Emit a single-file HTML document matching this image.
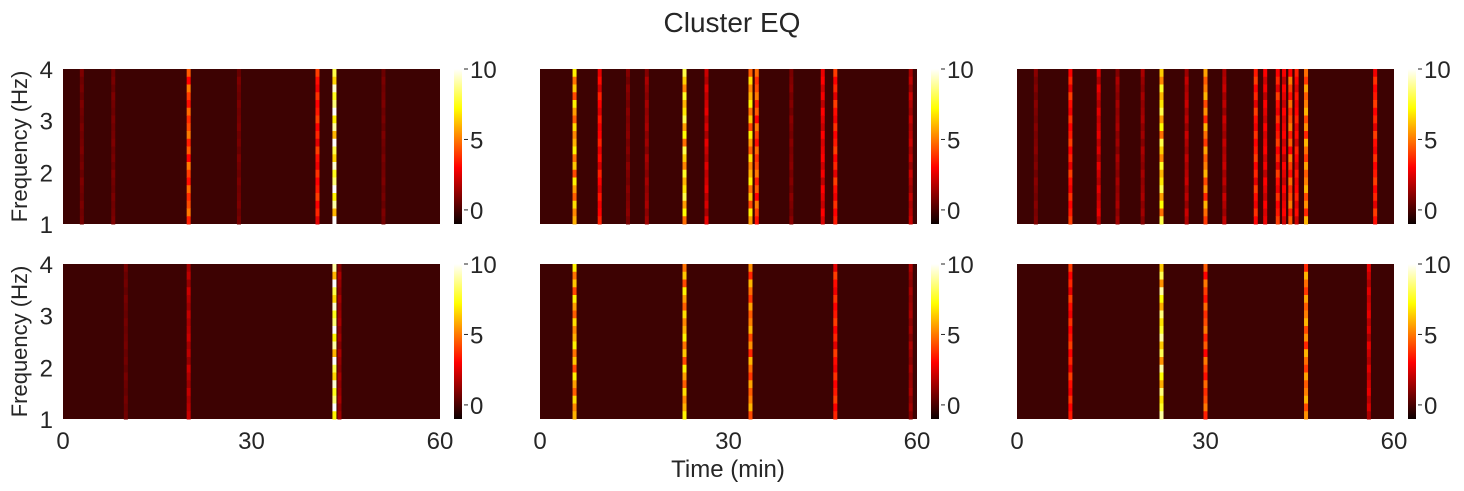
<!DOCTYPE html>
<html><head><meta charset="utf-8"><style>
body{margin:0;background:#fff;}
svg{display:block;font-family:"Liberation Sans",Arial,sans-serif;}
</style></head><body>
<svg id="fig" width="1464" height="491" viewBox="0 0 1464 491">
<defs>
<linearGradient id="hot" x1="0" y1="1" x2="0" y2="0">
<stop offset="0" stop-color="#0b0000"/><stop offset="0.365" stop-color="#ff0000"/><stop offset="0.746" stop-color="#ffff00"/><stop offset="1" stop-color="#ffffff"/>
</linearGradient>
</defs>
<text x="732" y="32" font-size="28" text-anchor="middle" fill="#262626">Cluster EQ</text>
<text x="728" y="477" font-size="24" text-anchor="middle" fill="#262626">Time (min)</text>
<g id="panels"></g>
</svg>
<script>
// data: stripe times (min) and peak values per panel
const timesTL=[3,8,20,28,40.5,43.2,51];
const valsTL=[0.8,0.8,5,0.8,4,10,0.8];
const timesTM=[5.5,9.5,14,17,23,26.5,33.5,34.5,40,45,47,59];
const valsTM=[7,3.5,1,1.5,8,2.5,7,5,1,3,4,2];
const timesTR=[3,8.5,13,16,20,23,27,30,33,38,39.5,41.5,42.5,43.5,44.5,46,57];
const valsTR=[1,4,2.5,1.5,1.5,8,2,6,2,4,3,4,3,5,3.5,6,4];
const timesBL=[10,20,43.2,44];
const valsBL=[0.7,2,10,1.5];
const timesBM=[5.5,23,33.5,47,59];
const valsBM=[7,7,6,4,1.5];
const timesBR=[8.5,23,30,46,56];
const valsBR=[4,9,5,6,2.5];
const ticksY=[1,2,3,4];
const ticksX=[0,30,60];
const cbTicks=[0,5,10];

const panels=[
 {x:63,y:69,t:timesTL,v:valsTL,ylab:true,xlab:false},
 {x:540,y:69,t:timesTM,v:valsTM,ylab:false,xlab:false},
 {x:1017,y:69,t:timesTR,v:valsTR,ylab:false,xlab:false},
 {x:63,y:264,t:timesBL,v:valsBL,ylab:true,xlab:true},
 {x:540,y:264,t:timesBM,v:valsBM,ylab:false,xlab:true},
 {x:1017,y:264,t:timesBR,v:valsBR,ylab:false,xlab:true}
];
const W=377,H=155,NS="http://www.w3.org/2000/svg";
function hot(v){let t=(v+1)/11;t=Math.max(0,Math.min(1,t));
 const r=Math.min(1,0.04+t/0.365),g=Math.max(0,Math.min(1,(t-0.365)/0.38)),b=Math.max(0,Math.min(1,(t-0.746)/0.254));
 return `rgb(${Math.round(r*255)},${Math.round(g*255)},${Math.round(b*255)})`;}
function mk(tag,attrs,parent){const e=document.createElementNS(NS,tag);for(const k in attrs)e.setAttribute(k,attrs[k]);parent.appendChild(e);return e;}
const root=document.getElementById('panels');
panels.forEach((p,i)=>{
 const g=mk('g',{},root);
 
 
 const xs=t=>p.x+t/60*W, ys=f=>p.y+H-(f-1)/3*H;
 const bg=mk('rect',{x:p.x,y:p.y,width:W,height:H,fill:'#3d0202'},g);
 
 
 p.t.forEach((t,j)=>{
  const v=p.v[j];const segs=20;
  for(let s=0;s<segs;s++){
   const mod=[1,0.7,0.9,0.6,1,0.8,0.65,0.95,0.75,0.85][(s+j)%10];
   const r=mk('rect',{x:xs(t)-2,y:p.y+s*H/segs,width:4,height:H/segs+0.5,fill:hot(v*mod)},g);
   
   
  }
 });
 if(p.ylab){
  ticksY.forEach(f=>{const tx=mk('text',{x:p.x-10,y:ys(f)+9,'font-size':24,'text-anchor':'end',fill:'#262626'},g);tx.textContent=f;
   
   });
  const yl=mk('text',{x:0,y:0,'font-size':22,'text-anchor':'middle',fill:'#262626',transform:`translate(${p.x-36},${p.y+H/2}) rotate(-90)`},g);
  yl.textContent='Frequency (Hz)';
  
  
 }
 if(p.xlab){
  ticksX.forEach(t=>{const tx=mk('text',{x:xs(t),y:p.y+H+30,'font-size':24,'text-anchor':'middle',fill:'#262626'},g);tx.textContent=t;
   
   });
 }
 const cx=p.x+W+14;
 const cb=mk('rect',{x:cx,y:p.y,width:8,height:H,fill:'url(#hot)'},g);
 
 
 cbTicks.forEach(c=>{const yy=p.y+H-(c+1)/11*H;
  mk('line',{x1:cx+10,x2:cx+14,y1:yy,y2:yy,stroke:'#262626','stroke-width':1},g);
  const tx=mk('text',{x:cx+16,y:yy+9,'font-size':24,fill:'#262626'},g);tx.textContent=c;
  
  });
});
</script>
</body></html>
